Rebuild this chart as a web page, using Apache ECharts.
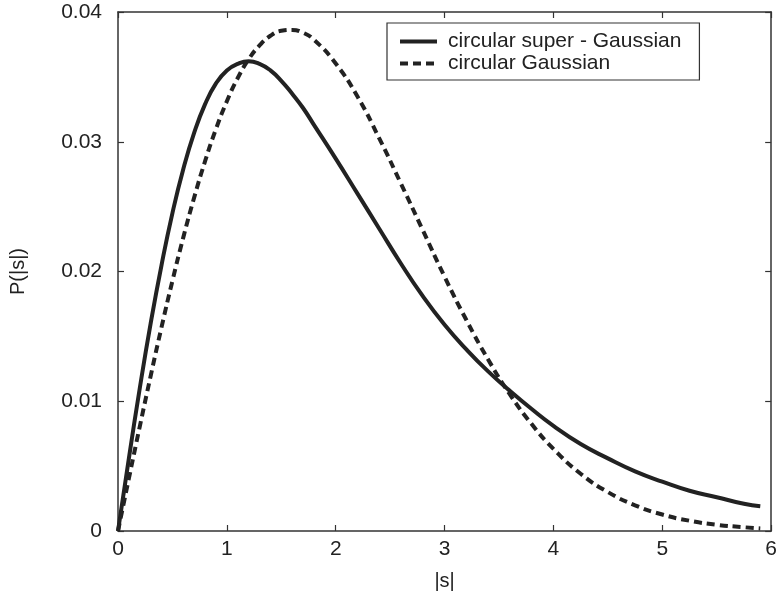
<!DOCTYPE html>
<html>
<head>
<meta charset="utf-8">
<script src="https://cdn.jsdelivr.net/npm/echarts@6/dist/echarts.min.js"></script>
<style>
html,body{margin:0;padding:0;background:#fff;}
#chart{width:780px;height:606px;}
</style>
</head>
<body>
<div id="chart"></div>
<script>
var sValues = [0, 0.1, 0.2, 0.3, 0.4, 0.5, 0.6, 0.7, 0.8, 0.9, 1.0, 1.1, 1.2, 1.3, 1.4, 1.5, 1.6, 1.7, 1.8, 2.0, 2.2, 2.4, 2.6, 2.8, 3.0, 3.2, 3.4, 3.6, 3.8, 4.0, 4.25, 4.5, 4.75, 5.0, 5.25, 5.5, 5.75, 5.9];
var superGaussian = [0, 0.0056, 0.0110, 0.0160, 0.0205, 0.0245, 0.0279, 0.0307, 0.0329, 0.0345, 0.0355, 0.0360, 0.0362, 0.0360, 0.0355, 0.0347, 0.0337, 0.0326, 0.0313, 0.0287, 0.0260, 0.0233, 0.0206, 0.0181, 0.0159, 0.0140, 0.0123, 0.0108, 0.0094, 0.0081, 0.0067, 0.0056, 0.0046, 0.0038, 0.0031, 0.0026, 0.0021, 0.0019];
var gaussian = [0, 0.00405, 0.00805, 0.01195, 0.01571, 0.01928, 0.02263, 0.02571, 0.02850, 0.03098, 0.03312, 0.03491, 0.03635, 0.03742, 0.03817, 0.03855, 0.03862, 0.03840, 0.03787, 0.03603, 0.03348, 0.03026, 0.02676, 0.02318, 0.01960, 0.01626, 0.01322, 0.01053, 0.00824, 0.00633, 0.00441, 0.00300, 0.00198, 0.00127, 0.00079, 0.00048, 0.00029, 0.00020];
var seriesNames = ['circular super - Gaussian', 'circular Gaussian'];
var xTicks = [0, 1, 2, 3, 4, 5, 6];
var yTicks = [0, 0.01, 0.02, 0.03, 0.04];

function pairs(xs, ys) { return xs.map(function (x, i) { return [x, ys[i]]; }); }

var axisColor = '#333';
var font = 'Liberation Sans, Arial, Helvetica, sans-serif';
var chart = echarts.init(document.getElementById('chart'), null, {renderer: 'canvas'});
chart.setOption({
  animation: false,
  backgroundColor: '#fff',
  textStyle: {fontFamily: font},
  grid: {left: 116, top: 12, right: 7, bottom: 75, show: false},
  legend: {
    orient: 'vertical',
    left: 387, top: 23,
    padding: [8, 18, 6, 11],
    itemGap: 1,
    itemWidth: 37, itemHeight: 14,
    borderColor: '#333', borderWidth: 1.2, borderRadius: 0,
    backgroundColor: '#fff',
    itemStyle: {color: 'rgba(0,0,0,0)', borderWidth: 0, opacity: 0},
    lineStyle: {width: 4},
    textStyle: {fontSize: 21, color: '#222', fontFamily: font, padding: [0, 0, 0, 6]},
    data: seriesNames
  },
  xAxis: [{
    type: 'value', min: xTicks[0], max: xTicks[xTicks.length - 1], interval: 1,
    name: '|s|', nameLocation: 'middle', nameGap: 40,
    nameTextStyle: {fontSize: 20, color: '#222'},
    axisLine: {show: true, onZero: false, lineStyle: {color: axisColor, width: 1.5}},
    axisTick: {show: true, inside: true, length: 6, lineStyle: {color: axisColor, width: 1.2}},
    axisLabel: {fontSize: 21, color: '#222', margin: 8, showMaxLabel: true},
    splitLine: {show: false}
  }, {
    type: 'value', position: 'top', min: 0, max: 6, interval: 1,
    axisLine: {show: true, onZero: false, lineStyle: {color: axisColor, width: 1.5}},
    axisTick: {show: true, inside: true, length: 6, lineStyle: {color: axisColor, width: 1.2}},
    axisLabel: {show: false}, splitLine: {show: false}
  }],
  yAxis: [{
    type: 'value', min: yTicks[0], max: yTicks[yTicks.length - 1], interval: 0.01,
    name: 'P(|s|)', nameLocation: 'middle', nameGap: 90, nameRotate: 90,
    nameTextStyle: {fontSize: 20, color: '#222'},
    axisLine: {show: true, onZero: false, lineStyle: {color: axisColor, width: 1.5}},
    axisTick: {show: true, inside: true, length: 6, lineStyle: {color: axisColor, width: 1.2}},
    axisLabel: {fontSize: 21, color: '#222', margin: 16},
    splitLine: {show: false}
  }, {
    type: 'value', position: 'right', min: 0, max: 0.04, interval: 0.01,
    axisLine: {show: true, onZero: false, lineStyle: {color: axisColor, width: 1.5}},
    axisTick: {show: true, inside: true, length: 6, lineStyle: {color: axisColor, width: 1.2}},
    axisLabel: {show: false}, splitLine: {show: false}
  }],
  series: [{
    name: seriesNames[0], type: 'line', smooth: true, symbol: 'none',
    data: pairs(sValues, superGaussian),
    lineStyle: {color: '#222', width: 4, type: 'solid'},
    itemStyle: {color: '#222'}
  }, {
    name: seriesNames[1], type: 'line', smooth: true, symbol: 'none',
    data: pairs(sValues, gaussian),
    lineStyle: {color: '#222', width: 4, type: [8, 5]},
    itemStyle: {color: '#222'}
  }]
});
</script>
</body>
</html>
